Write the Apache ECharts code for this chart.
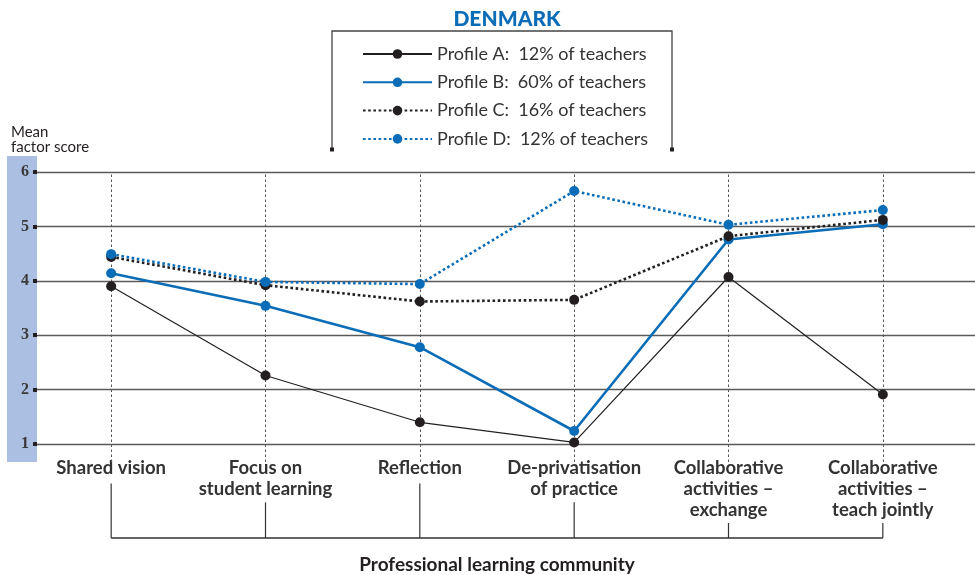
<!DOCTYPE html>
<html>
<head>
<meta charset="utf-8">
<script src="https://cdn.jsdelivr.net/npm/echarts@6/dist/echarts.min.js"></script>
<style>
  html, body { margin: 0; padding: 0; background: #fff; }
  #chart { width: 975px; height: 575px; }
</style>
</head>
<body>
<div id="chart"></div>
<script>
// Dimensions of a professional learning community, Denmark
const categories = [
  'Shared vision',
  'Focus on\nstudent learning',
  'Reflection',
  'De-privatisation\nof practice',
  'Collaborative\nactivities –\nexchange',
  'Collaborative\nactivities –\nteach jointly'
];

const profileNames = [
  'Profile A:  12% of teachers',
  'Profile B:  60% of teachers',
  'Profile C:  16% of teachers',
  'Profile D:  12% of teachers'
];

const profileA = [3.90, 2.26, 1.40, 1.03, 4.07, 1.91];
const profileB = [4.14, 3.54, 2.78, 1.24, 4.76, 5.04];
const profileC = [4.44, 3.92, 3.62, 3.65, 4.82, 5.12];
const profileD = [4.49, 3.98, 3.94, 5.65, 5.03, 5.30];

const yTicks = [1, 2, 3, 4, 5, 6];

const BLUE = '#0b6db7';
const INK = '#231f20';
const FONT = 'Lato, "Liberation Sans", sans-serif';

const chart = echarts.init(document.getElementById('chart'), null, { renderer: 'canvas' });

function profileSeries(name, data, color, width, dotted) {
  return {
    name: name,
    type: 'line',
    xAxisIndex: 1,
    yAxisIndex: 1,
    data: data,
    symbol: 'circle',
    symbolSize: 10,
    z: 5,
    itemStyle: { color: color },
    lineStyle: { color: color, width: width, type: dotted ? [2.6, 2.6] : 'solid' },
    emphasis: { disabled: true }
  };
}

const option = {
  animation: false,
  backgroundColor: '#ffffff',
  textStyle: { fontFamily: FONT },
  title: [
    {
      text: 'DENMARK',
      left: 502, top: 4, textAlign: 'center',
      textStyle: { color: BLUE, fontSize: 21, fontWeight: 900, fontFamily: FONT }
    },
    {
      text: 'Mean\nfactor score',
      left: 6, top: 120,
      textStyle: { color: '#231f20', fontSize: 15, fontWeight: 'normal', lineHeight: 15, fontFamily: FONT }
    }
  ],
  legend: {
    orient: 'vertical',
    left: 357, top: 39,
    itemWidth: 69, itemHeight: 12, itemGap: 8.3,
    selectedMode: false,
    data: profileNames,
    textStyle: { color: '#333', fontSize: 18, lineHeight: 20, fontFamily: FONT }
  },
  graphic: [
    // open frame around the legend
    {
      type: 'polyline', silent: true,
      shape: { points: [[332, 150], [332, 31], [672, 31], [672, 150]] },
      style: { stroke: '#444', lineWidth: 1.3, fill: null }
    },
    { type: 'rect', silent: true, shape: { x: 330, y: 147.5, width: 4, height: 4 }, style: { fill: '#231f20' } },
    { type: 'rect', silent: true, shape: { x: 670, y: 147.5, width: 4, height: 4 }, style: { fill: '#231f20' } }
  ],
  grid: [
    // horizontal rules and value axis
    { left: 37, right: 0, top: 172, bottom: 131 },
    // plotted profiles, category axis
    { left: 34, right: 15, top: 172, bottom: 113 },
    // bracket under category labels
    { left: 34, right: 15, top: 462, bottom: 32 },
    // shaded band behind the value labels
    { left: 7, width: 30, top: 156, bottom: 113, show: true, backgroundColor: '#abbfe2', borderWidth: 0 }
  ],
  xAxis: [
    { gridIndex: 0, type: 'value', min: 0, max: 1, show: false },
    {
      gridIndex: 1, type: 'category', data: categories, boundaryGap: true,
      axisLine: { show: false }, axisTick: { show: false }, splitLine: { show: false },
      axisLabel: {
        interval: 0, margin: -4, color: '#333', fontSize: 18.5, fontWeight: 'bold',
        lineHeight: 21, fontFamily: FONT
      }
    },
    {
      gridIndex: 2, type: 'category', data: categories, boundaryGap: true,
      axisLine: { show: false }, axisTick: { show: false }, axisLabel: { show: false },
      name: 'Professional learning community', nameLocation: 'middle', nameGap: 17,
      nameTextStyle: { color: '#231f20', fontSize: 19, fontWeight: 'bold', fontFamily: FONT }
    },
    { gridIndex: 3, type: 'value', show: false }
  ],
  yAxis: [
    {
      gridIndex: 0, type: 'value', min: 1, max: 6, interval: 1,
      axisLine: { show: false },
      axisTick: { show: true, length: 4, lineStyle: { color: '#231f20', width: 4 } },
      axisLabel: {
        margin: 8, color: '#3a3a3a', fontSize: 16, fontWeight: 'bold',
        fontFamily: '"Liberation Serif", "DejaVu Serif", serif',
        formatter: v => (yTicks.indexOf(v) >= 0 ? String(v) : '')
      },
      splitLine: { show: true, lineStyle: { color: '#5a5a5a', width: 1.3 } }
    },
    { gridIndex: 1, type: 'value', min: 0.67, max: 6, show: false },
    { gridIndex: 2, type: 'value', min: 0, max: 81, show: false },
    { gridIndex: 3, type: 'value', show: false }
  ],
  series: [
    // dashed guide lines at each category
    {
      type: 'line', xAxisIndex: 1, yAxisIndex: 1, data: [], z: 2, silent: true,
      markLine: {
        silent: true, symbol: 'none', label: { show: false },
        lineStyle: { color: '#555', width: 1, type: [2.5, 2.5] },
        data: categories.map((c, i) => ({ xAxis: i }))
      }
    },
    profileSeries(profileNames[0], profileA, INK, 1.2, false),
    profileSeries(profileNames[1], profileB, BLUE, 2.6, false),
    profileSeries(profileNames[2], profileC, INK, 2.6, true),
    profileSeries(profileNames[3], profileD, BLUE, 2.6, true),
    // bracket: stems below each label and the joining rule
    {
      type: 'bar', xAxisIndex: 2, yAxisIndex: 2, silent: true,
      barWidth: 1.2, data: [58, 38, 58, 38, 16, 16],
      itemStyle: { color: '#333' }
    },
    {
      type: 'line', xAxisIndex: 2, yAxisIndex: 2, silent: true, clip: false,
      data: categories.map(() => 0), symbol: 'none',
      lineStyle: { color: '#333', width: 1.3 }
    }
  ]
};

chart.setOption(option);
</script>
</body>
</html>
